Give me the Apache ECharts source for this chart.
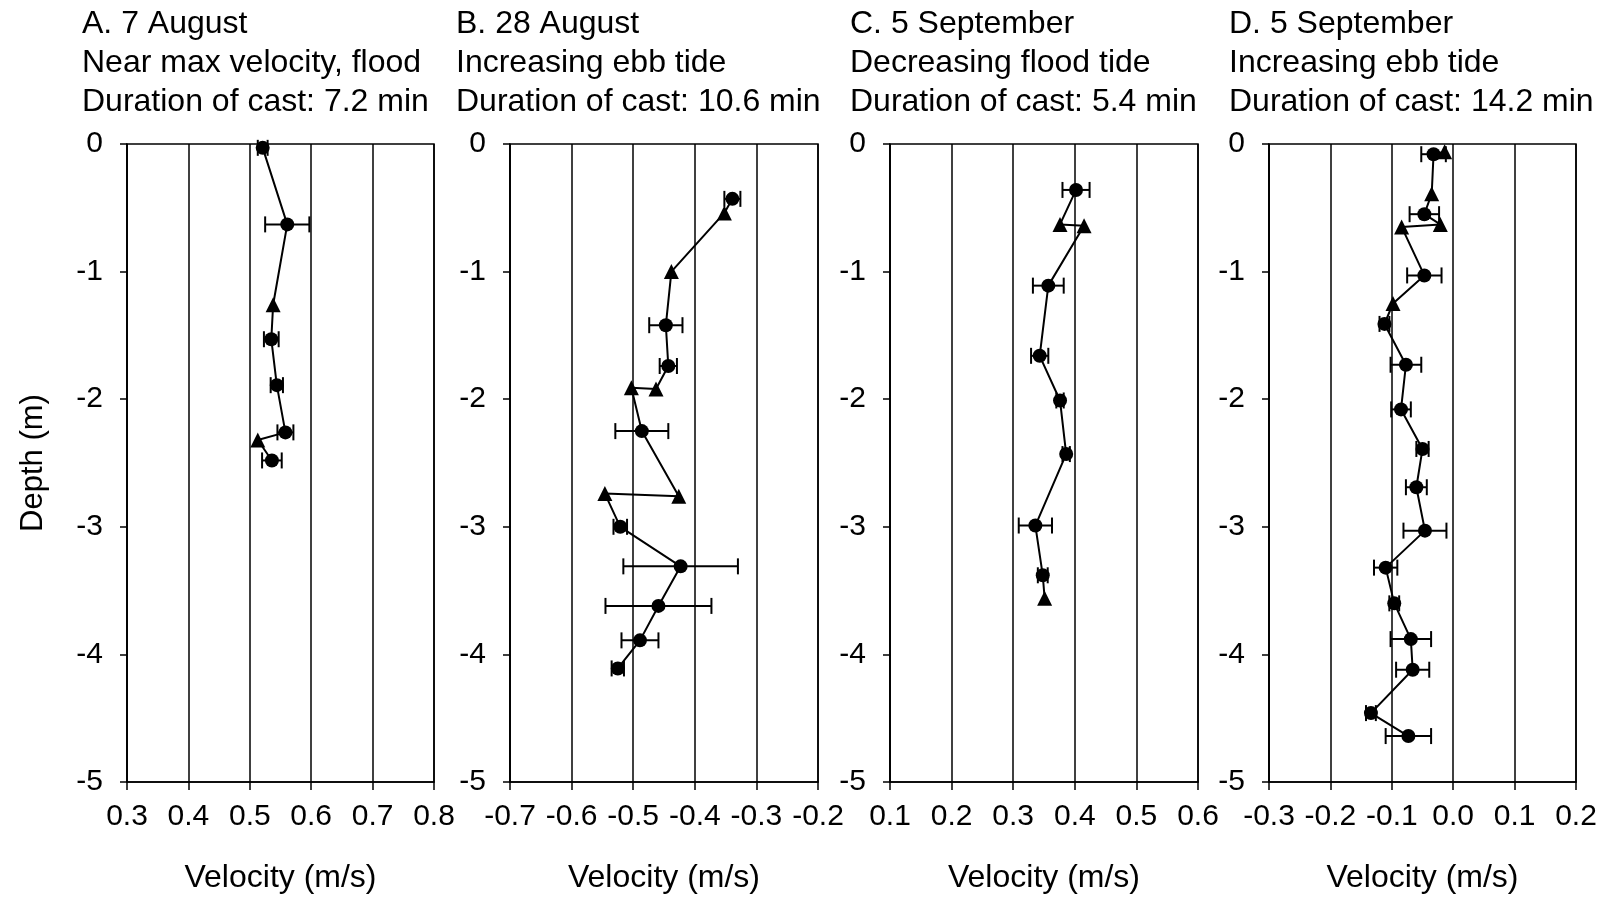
<!DOCTYPE html>
<html>
<head>
<meta charset="utf-8">
<script src="https://cdn.jsdelivr.net/npm/echarts@6/dist/echarts.min.js"></script>
<style>
html,body{margin:0;padding:0;background:#fff;}
#chart{width:1606px;height:899px;}
</style>
</head>
<body>
<div id="chart"></div>
<script>
// ---- Panel titles ----
const titlesA = ['A. 7 August', 'Near max velocity, flood', 'Duration of cast: 7.2 min'];
const titlesB = ['B. 28 August', 'Increasing ebb tide', 'Duration of cast: 10.6 min'];
const titlesC = ['C. 5 September', 'Decreasing flood tide', 'Duration of cast: 5.4 min'];
const titlesD = ['D. 5 September', 'Increasing ebb tide', 'Duration of cast: 14.2 min'];

// ---- Tick labels ----
const xTicksA = ['0.3', '0.4', '0.5', '0.6', '0.7', '0.8'];
const xTicksB = ['-0.7', '-0.6', '-0.5', '-0.4', '-0.3', '-0.2'];
const xTicksC = ['0.1', '0.2', '0.3', '0.4', '0.5', '0.6'];
const xTicksD = ['-0.3', '-0.2', '-0.1', '0.0', '0.1', '0.2'];
const yTicks = ['-5', '-4', '-3', '-2', '-1', '0'];

// ---- Panel A data ----
const velA   = [0.521, 0.561, 0.538, 0.535, 0.544, 0.558, 0.513, 0.536];
const depthA = [-0.03, -0.63, -1.26, -1.53, -1.89, -2.26, -2.32, -2.48];
const errA   = [0.008, 0.036, 0, 0.012, 0.010, 0.013, 0, 0.016];
const shapeA = ['c', 'c', 't', 'c', 'c', 'c', 't', 'c'];

// ---- Panel B data ----
const velB   = [-0.339, -0.352, -0.438, -0.447, -0.443, -0.463, -0.503, -0.486, -0.426, -0.546, -0.521, -0.423, -0.459, -0.489, -0.525];
const depthB = [-0.43, -0.54, -1.00, -1.42, -1.74, -1.92, -1.91, -2.25, -2.76, -2.74, -3.00, -3.31, -3.62, -3.89, -4.11];
const errB   = [0.013, 0, 0, 0.027, 0.014, 0, 0, 0.043, 0, 0, 0.011, 0.093, 0.086, 0.030, 0.010];
const shapeB = ['c', 't', 't', 'c', 'c', 't', 't', 'c', 't', 't', 'c', 'c', 'c', 'c', 'c'];

// ---- Panel C data ----
const velC   = [0.402, 0.376, 0.415, 0.357, 0.343, 0.376, 0.386, 0.336, 0.348, 0.351];
const depthC = [-0.36, -0.63, -0.64, -1.11, -1.66, -2.01, -2.43, -2.99, -3.38, -3.56];
const errC   = [0.022, 0, 0, 0.025, 0.014, 0.006, 0.006, 0.027, 0.008, 0];
const shapeC = ['c', 't', 't', 'c', 'c', 'c', 'c', 'c', 'c', 't'];

// ---- Panel D data ----
const velD   = [-0.014, -0.032, -0.035, -0.047, -0.021, -0.084, -0.047, -0.098, -0.112, -0.077, -0.085, -0.050, -0.060, -0.046, -0.110, -0.096, -0.069, -0.066, -0.134, -0.073];
const depthD = [-0.06, -0.08, -0.39, -0.55, -0.63, -0.65, -1.03, -1.25, -1.41, -1.73, -2.08, -2.39, -2.69, -3.03, -3.32, -3.60, -3.88, -4.12, -4.46, -4.64];
const errD   = [0, 0.020, 0, 0.024, 0, 0, 0.028, 0, 0.008, 0.025, 0.016, 0.010, 0.017, 0.035, 0.019, 0.008, 0.033, 0.027, 0.008, 0.037];
const shapeD = ['t', 'c', 't', 'c', 't', 't', 'c', 't', 'c', 'c', 'c', 'c', 'c', 'c', 'c', 'c', 'c', 'c', 'c', 'c'];

const FONT = '"Liberation Sans", Arial, sans-serif';
const panels = [
  {titles: titlesA, ticks: xTicksA, vel: velA, depth: depthA, err: errA, shape: shapeA, min: 0.3, max: 0.8, left: 127, width: 307, titleLeft: 82},
  {titles: titlesB, ticks: xTicksB, vel: velB, depth: depthB, err: errB, shape: shapeB, min: -0.7, max: -0.2, left: 510, width: 308, titleLeft: 456},
  {titles: titlesC, ticks: xTicksC, vel: velC, depth: depthC, err: errC, shape: shapeC, min: 0.1, max: 0.6, left: 890, width: 308, titleLeft: 850},
  {titles: titlesD, ticks: xTicksD, vel: velD, depth: depthD, err: errD, shape: shapeD, min: -0.3, max: 0.2, left: 1269, width: 307, titleLeft: 1229}
];

const GRID_TOP = 144, GRID_H = 641;
const grids = [], xAxes = [], yAxes = [], series = [], titles = [];

panels.forEach((p, i) => {
  grids.push({left: p.left, top: GRID_TOP, width: p.width, height: GRID_H,
    show: true, borderColor: '#000', borderWidth: 1.5, backgroundColor: 'transparent'});
  titles.push({text: p.titles.join('\n'), left: p.titleLeft, top: 5, padding: 0,
    textStyle: {fontFamily: FONT, fontSize: 32, fontWeight: 'normal', color: '#000', lineHeight: 39}});
  xAxes.push({type: 'value', gridIndex: i, min: p.min, max: p.max, interval: 0.1,
    name: 'Velocity (m/s)', nameLocation: 'middle', nameGap: 80,
    nameTextStyle: {fontFamily: FONT, fontSize: 32, color: '#000'},
    axisLine: {show: true, onZero: false, lineStyle: {color: '#000', width: 1.5}},
    axisTick: {show: true, inside: false, length: 8, lineStyle: {color: '#000', width: 1.5}},
    splitLine: {show: true, lineStyle: {color: '#000', width: 1.5}},
    axisLabel: {fontFamily: FONT, fontSize: 30, color: '#000', margin: 20,
      formatter: (v) => p.ticks[Math.round((v - p.min) / 0.1)]}
  });
  yAxes.push({type: 'value', gridIndex: i, min: -5, max: 0, interval: 1,
    name: i === 0 ? 'Depth (m)' : '', nameLocation: 'middle', nameGap: 78, nameRotate: 90,
    nameTextStyle: {fontFamily: FONT, fontSize: 31, color: '#000'},
    axisLine: {show: true, onZero: false, lineStyle: {color: '#000', width: 1.5}},
    axisTick: {show: true, inside: false, length: 7, lineStyle: {color: '#000', width: 1.5}},
    splitLine: {show: false},
    axisLabel: {fontFamily: FONT, fontSize: 30, color: '#000', margin: 24,
      formatter: (v) => yTicks[Math.round(v + 5)]}
  });
  const lineData = p.vel.map((v, k) => ({
    value: [v, p.depth[k]],
    symbol: p.shape[k] === 't' ? 'triangle' : 'circle',
    symbolSize: p.shape[k] === 't' ? 15 : 14
  }));
  series.push({type: 'line', xAxisIndex: i, yAxisIndex: i, data: lineData,
    showSymbol: true, animation: false, z: 5,
    lineStyle: {color: '#000', width: 2},
    itemStyle: {color: '#000', borderWidth: 0}
  });
  const errData = p.vel.map((v, k) => [v, p.depth[k], p.err[k]]).filter(d => d[2] > 0);
  series.push({type: 'custom', xAxisIndex: i, yAxisIndex: i, data: errData, animation: false, z: 4,
    renderItem: (params, api) => {
      const v = api.value(0), d = api.value(1), e = api.value(2);
      const a = api.coord([v - e, d]), b = api.coord([v + e, d]);
      const st = {stroke: '#000', lineWidth: 2};
      const cap = 8;
      return {type: 'group', children: [
        {type: 'line', shape: {x1: a[0], y1: a[1], x2: b[0], y2: b[1]}, style: st},
        {type: 'line', shape: {x1: a[0], y1: a[1] - cap, x2: a[0], y2: a[1] + cap}, style: st},
        {type: 'line', shape: {x1: b[0], y1: b[1] - cap, x2: b[0], y2: b[1] + cap}, style: st}
      ]};
    }
  });
});

const chart = echarts.init(document.getElementById('chart'), null, {renderer: 'canvas'});
chart.setOption({
  backgroundColor: '#fff',
  animation: false,
  title: titles,
  grid: grids,
  xAxis: xAxes,
  yAxis: yAxes,
  series: series
});
</script>
</body>
</html>
